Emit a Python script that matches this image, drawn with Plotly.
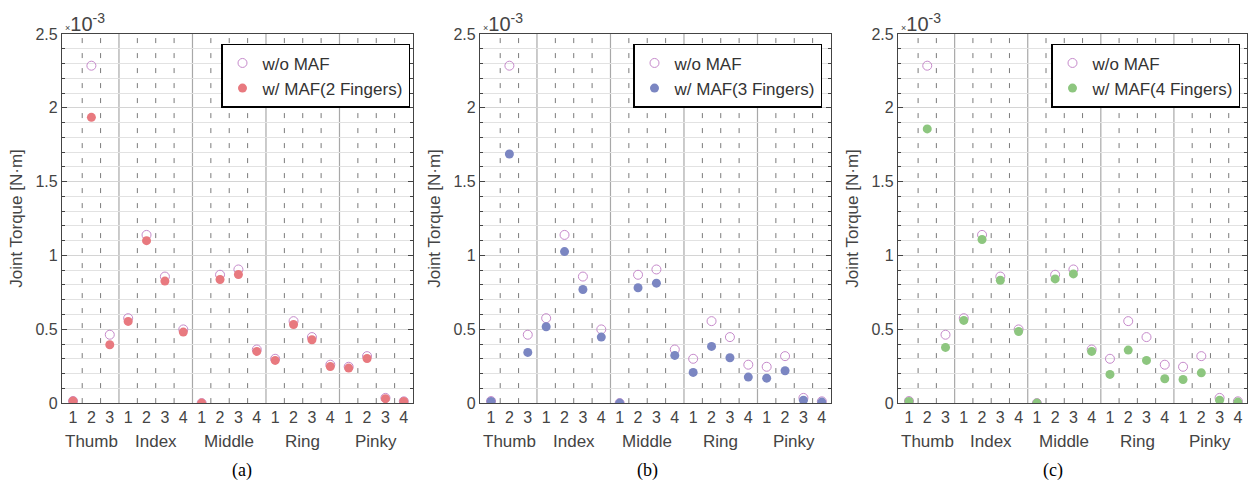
import plotly.graph_objects as go

fingers = ["Thumb", "Index", "Middle", "Ring", "Pinky"]
joints_per_finger = [3, 4, 4, 4, 4]

# Joint torque values, in units of 1e-3 N·m
wo_maf = [0.014, 2.285, 0.463, 0.575, 1.139, 0.857, 0.499, 0.0, 0.869, 0.905, 0.363,
          0.300, 0.555, 0.447, 0.260, 0.246, 0.318, 0.035, 0.012]
w_maf_2 = [0.014, 1.935, 0.395, 0.553, 1.100, 0.826, 0.481, 0.0, 0.837, 0.871, 0.350,
           0.289, 0.532, 0.429, 0.248, 0.237, 0.302, 0.030, 0.011]
w_maf_3 = [0.011, 1.687, 0.343, 0.517, 1.026, 0.769, 0.447, 0.0, 0.781, 0.812, 0.323,
           0.208, 0.384, 0.307, 0.176, 0.169, 0.219, 0.020, 0.007]
w_maf_4 = [0.011, 1.857, 0.377, 0.560, 1.108, 0.832, 0.485, 0.0, 0.841, 0.875, 0.350,
           0.194, 0.359, 0.289, 0.165, 0.160, 0.205, 0.020, 0.007]

panels = [
    ("w/ MAF(2 Fingers)", w_maf_2, "#E8797F", "(a)"),
    ("w/ MAF(3 Fingers)", w_maf_3, "#7B86C2", "(b)"),
    ("w/ MAF(4 Fingers)", w_maf_4, "#8DC67F", "(c)"),
]
open_color = "#C68ACB"

W = 1251
H = 491


def fy(y_px):
    # target pixel row -> paper fraction (with empirical vertical correction)
    y_int = (y_px - 7.0) / 0.9676
    return 1 - y_int / H


x_doms_px = [(62, 413), (480, 831), (898, 1247)]
ydom = [fy(403), fy(33)]

# joint positions and labels
xpos, xlab = [], []
k = 1
finger_centers = []
finger_bounds = []
dashed = []
for n in joints_per_finger:
    start = k
    for j in range(1, n + 1):
        xpos.append(k)
        xlab.append(str(j))
        if j < n:
            dashed.append(k + 0.5)
        k += 1
    finger_centers.append((start + k - 1) / 2)
    finger_bounds.append(k - 0.5)
finger_bounds = finger_bounds[:-1]

FONT = "Liberation Sans, Arial, sans-serif"
fig = go.Figure()
shapes, annotations = [], []
tick_font = dict(family=FONT, size=16, color="#444444")
legend_right = [410, 822, 1240]

for i, (name, vals, col, cap) in enumerate(panels):
    n = i + 1
    xa = "x" if n == 1 else f"x{n}"
    ya = "y" if n == 1 else f"y{n}"
    lg = "legend" if n == 1 else f"legend{n}"
    fig.add_trace(go.Scatter(x=xpos, y=wo_maf, mode="markers", name="w/o MAF",
                             marker=dict(symbol="circle-open", size=9, color=open_color,
                                         line=dict(width=1, color=open_color)),
                             xaxis=xa, yaxis=ya, legend=lg))
    fig.add_trace(go.Scatter(x=xpos, y=vals, mode="markers", name=name,
                             marker=dict(symbol="circle", size=9, color=col,
                                         line=dict(width=0)),
                             xaxis=xa, yaxis=ya, legend=lg))
    x0, x1 = x_doms_px[i]
    xkey = "xaxis" if n == 1 else f"xaxis{n}"
    ykey = "yaxis" if n == 1 else f"yaxis{n}"
    fig.update_layout(**{
        xkey: dict(domain=[x0 / W, x1 / W], range=[0.4, 19.5], anchor=ya,
                   tickvals=xpos, ticktext=xlab, ticks="", showgrid=False,
                   zeroline=False, showline=True, linecolor="#444444", linewidth=1.2,
                   mirror=True, tickfont=tick_font, ticklabelstandoff=0,
                   fixedrange=True),
        ykey: dict(domain=ydom, range=[0, 2.5], anchor=xa,
                   tickvals=[0, 0.5, 1, 1.5, 2, 2.5],
                   ticktext=["0", "0.5", "1", "1.5", "2", "2.5"],
                   ticks="inside", ticklen=5, tickcolor="#444444",
                   showgrid=True, gridcolor="#D4D4D4", gridwidth=1,
                   minor=dict(dtick=0.1, showgrid=True, gridcolor="#E2E2E2",
                              ticks="inside", ticklen=3, tickcolor="#444444"),
                   zeroline=False, showline=True, linecolor="#444444", linewidth=1.2,
                   mirror="ticks", tickfont=tick_font,
                   title=dict(text="Joint Torque [N·m]",
                              font=dict(family=FONT, size=17, color="#444444"),
                              standoff=8),
                   fixedrange=True),
        lg: dict(x=legend_right[i] / W, xanchor="right", y=fy(43), yanchor="top",
                 bgcolor="white", bordercolor="black", borderwidth=1.5,
                 font=dict(family=FONT, size=17, color="#333333"),
                 tracegroupgap=2),
    })
    for xb in finger_bounds:
        shapes.append(dict(type="line", xref=xa, yref=f"{ya} domain", x0=xb, x1=xb,
                           y0=0, y1=1, line=dict(color="#A8A8A8", width=1.2), layer="below"))
    for xd in dashed:
        shapes.append(dict(type="line", xref=xa, yref=f"{ya} domain", x0=xd, x1=xd,
                           y0=0, y1=1, line=dict(color="#7A7A7A", width=1, dash="5px,10px"),
                           layer="below"))
    for fc, fn in zip(finger_centers, fingers):
        annotations.append(dict(x=fc, y=fy(441), xref=xa, yref="paper", text=fn,
                                showarrow=False, yanchor="middle",
                                font=dict(family=FONT, size=17, color="#444444")))
    annotations.append(dict(x=(x0 + x1) / 2 / W - 8 / W, y=fy(471), xref="paper",
                            yref="paper", text=cap, showarrow=False, yanchor="middle",
                            font=dict(family="Liberation Serif, Times New Roman, serif",
                                      size=18, color="black")))
    annotations.append(dict(x=(x0 + 1) / W, y=fy(36), xref="paper", yref="paper",
                            xanchor="left", yanchor="bottom",
                            text="<span style='font-size:9px'>×</span>10<sup>-3</sup>",
                            showarrow=False,
                            font=dict(family=FONT, size=20, color="#444444")))

fig.update_layout(width=W, height=H, margin=dict(l=0, r=0, t=0, b=0),
                  paper_bgcolor="white", plot_bgcolor="white",
                  shapes=shapes, annotations=annotations, showlegend=True)
fig.write_html("out.html", config={"displayModeBar": False},
               post_script="document.body.style.margin='0';document.body.style.overflow='hidden';")
